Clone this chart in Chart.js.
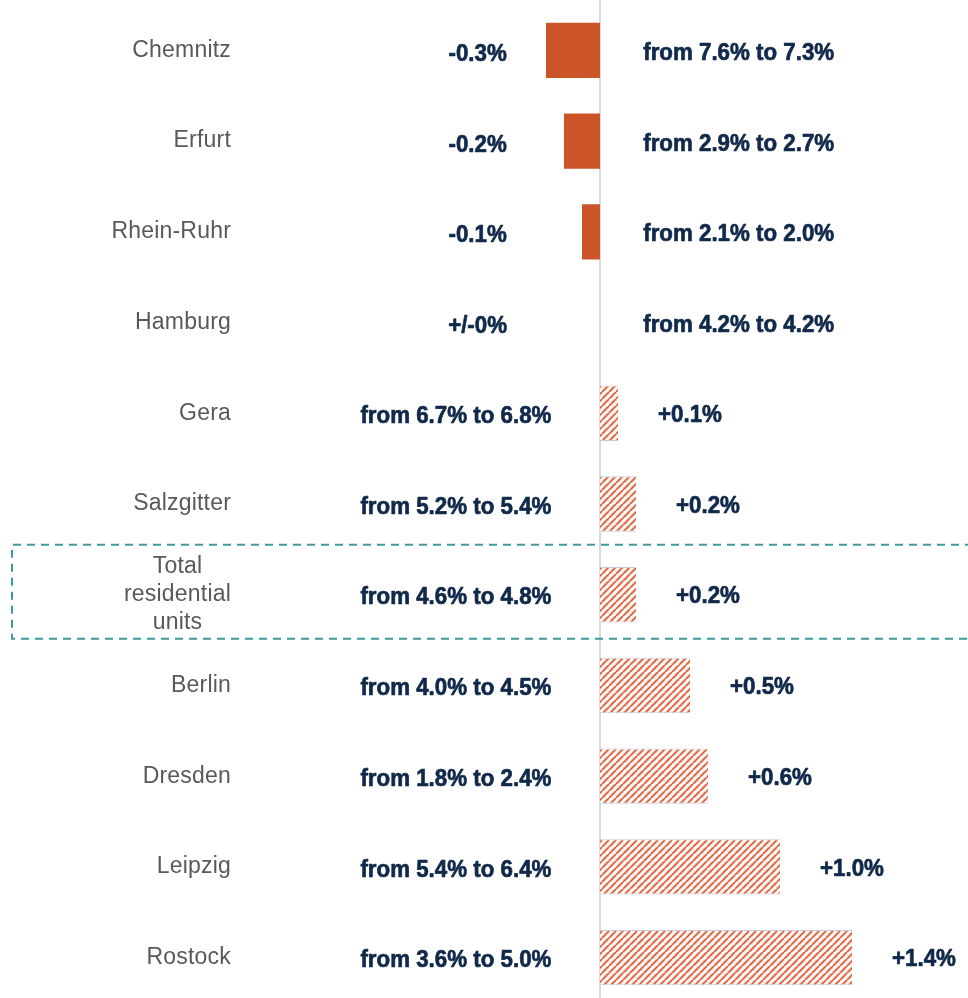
<!DOCTYPE html>
<html>
<head>
<meta charset="utf-8">
<script src="https://cdn.jsdelivr.net/npm/chart.js@4.4.1/dist/chart.umd.min.js"></script>
<style>
  html, body { margin: 0; padding: 0; background: #ffffff; overflow: hidden; }
  #wrap { width: 968px; height: 1003px; position: relative; }
</style>
</head>
<body>
<div id="wrap"><canvas id="c" width="968" height="1003"></canvas></div>
<script>
// ---- data ----
const categories = ['Chemnitz', 'Erfurt', 'Rhein-Ruhr', 'Hamburg', 'Gera', 'Salzgitter',
  ['Total', 'residential', 'units'], 'Berlin', 'Dresden', 'Leipzig', 'Rostock'];
const changeValues = [-0.3, -0.2, -0.1, 0, 0.1, 0.2, 0.2, 0.5, 0.6, 1.0, 1.4];
const fromValues = [7.6, 2.9, 2.1, 4.2, 6.7, 5.2, 4.6, 4.0, 1.8, 5.4, 3.6];
const toValues = [7.3, 2.7, 2.0, 4.2, 6.8, 5.4, 4.8, 4.5, 2.4, 6.4, 5.0];
const highlightedCategory = 6;

// ---- styles ----
const solidColor = '#CC5429';
const navy = '#10294A';
const grey = '#595959';

function makeHatch() {
  const s = 7;
  const p = document.createElement('canvas');
  p.width = s; p.height = s;
  const g = p.getContext('2d');
  g.fillStyle = '#ffffff';
  g.fillRect(0, 0, s, s);
  g.strokeStyle = 'rgba(230,120,80,0.5)';
  g.lineWidth = 3;
  for (let k = -1; k <= 1; k++) {
    g.beginPath(); g.moveTo(k * s, s); g.lineTo(k * s + s, 0); g.stroke();
  }
  g.strokeStyle = '#D2502A';
  g.lineWidth = 1.2;
  for (let k = -1; k <= 1; k++) {
    g.beginPath(); g.moveTo(k * s, s); g.lineTo(k * s + s, 0); g.stroke();
  }
  return document.getElementById('c').getContext('2d').createPattern(p, 'repeat');
}
const hatch = makeHatch();

function fmtChange(v) {
  if (v === 0) return '+/-0%';
  return (v > 0 ? '+' : '-') + Math.abs(v).toFixed(1) + '%';
}
function fmtFromTo(i) {
  return 'from ' + fromValues[i].toFixed(1) + '% to ' + toValues[i].toFixed(1) + '%';
}

const valueFont = 'bold 24px "Liberation Sans", Arial, sans-serif';
const catFont = '23px "Liberation Sans", Arial, sans-serif';
const squeeze = 0.93;

function drawSqueezed(ctx, text, x, y, align) {
  ctx.save();
  ctx.translate(x, y);
  ctx.scale(squeeze, 1);
  ctx.textAlign = align;
  ctx.strokeStyle = navy;
  ctx.lineWidth = 0.7;
  ctx.lineJoin = 'round';
  ctx.strokeText(text, 0, 0);
  ctx.fillText(text, 0, 0);
  ctx.restore();
}

const overlay = {
  id: 'overlay',
  beforeDatasetsDraw(chart) {
    const ctx = chart.ctx;
    const x = chart.scales.x;
    const x0 = x.getPixelForValue(0);
    ctx.save();
    ctx.strokeStyle = '#D9D9D9';
    ctx.lineWidth = 2;
    ctx.beginPath();
    ctx.moveTo(x0, 0);
    ctx.lineTo(x0, chart.height);
    ctx.stroke();
    ctx.restore();
  },
  afterDatasetsDraw(chart) {
    const ctx = chart.ctx;
    const x = chart.scales.x;
    const y = chart.scales.y;
    const meta = chart.getDatasetMeta(0);
    ctx.save();
    // highlight box
    const hy = y.getPixelForValue(highlightedCategory);
    ctx.strokeStyle = '#3E9A9C';
    ctx.lineWidth = 2;
    ctx.setLineDash([8, 6]);
    ctx.beginPath();
    ctx.moveTo(chart.width + 5, hy - 50);
    ctx.lineTo(12, hy - 50);
    ctx.lineTo(12, hy + 44);
    ctx.lineTo(chart.width + 5, hy + 44);
    ctx.stroke();
    ctx.setLineDash([]);

    categories.forEach((cat, i) => {
      const cy = y.getPixelForValue(i);
      // category label
      ctx.fillStyle = grey;
      ctx.font = catFont;
      ctx.letterSpacing = '0.2px';
      ctx.textBaseline = 'middle';
      const rightEdge = 231;
      if (Array.isArray(cat)) {
        const w = Math.max(...cat.map(s => ctx.measureText(s).width));
        ctx.textAlign = 'center';
        cat.forEach((s, k) => {
          ctx.fillText(s, rightEdge - w / 2, cy + (k - (cat.length - 1) / 2) * 28);
        });
      } else {
        ctx.textAlign = 'right';
        ctx.fillText(cat, rightEdge, cy);
      }
      ctx.letterSpacing = '0px';
      // value labels
      ctx.fillStyle = navy;
      ctx.font = valueFont;
      const v = changeValues[i];
      const bar = meta.data[i];
      if (v <= 0) {
        drawSqueezed(ctx, fmtChange(v), x.getPixelForValue(-0.68), cy + 4, 'center');
        drawSqueezed(ctx, fmtFromTo(i), x.getPixelForValue(0.24), cy + 3, 'left');
      } else {
        drawSqueezed(ctx, fmtFromTo(i), x.getPixelForValue(-0.27), cy + 3, 'right');
        drawSqueezed(ctx, fmtChange(v), bar.x + 40, cy + 2, 'left');
      }
    });
    ctx.restore();
  }
};

new Chart(document.getElementById('c'), {
  type: 'bar',
  data: {
    labels: categories,
    datasets: [{
      data: changeValues,
      backgroundColor: changeValues.map(v => v < 0 ? solidColor : hatch),
      borderColor: changeValues.map(v => v < 0 ? solidColor : '#C8C8DC'),
      borderWidth: changeValues.map(v => v < 0 ? 0 : { top: 1, bottom: 1, left: 0, right: 0 }),
      borderSkipped: false,
      barPercentage: 0.61,
      categoryPercentage: 1.0
    }]
  },
  options: {
    indexAxis: 'y',
    responsive: false,
    animation: false,
    layout: { padding: { top: 5, bottom: 0, left: 0, right: 0 } },
    plugins: { legend: { display: false }, tooltip: { enabled: false } },
    scales: {
      x: { display: false, min: -600 / 180, max: 368 / 180 },
      y: { display: false }
    }
  },
  plugins: [overlay]
});
</script>
</body>
</html>
